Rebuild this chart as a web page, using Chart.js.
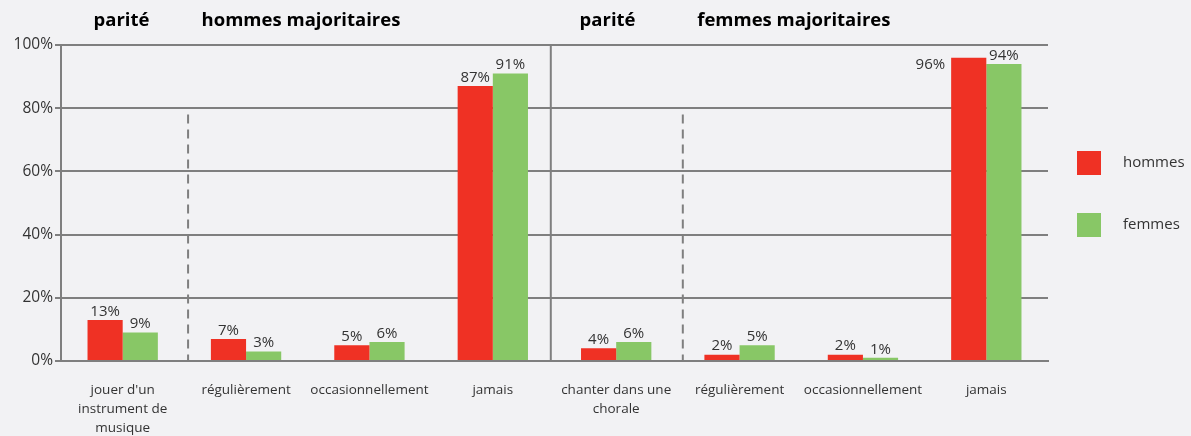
<!DOCTYPE html>
<html><head><meta charset="utf-8">
<script src="https://cdn.jsdelivr.net/npm/chart.js@4"></script>
<style>html,body{margin:0;padding:0;background:#f2f2f4;}#wrap{width:1191px;height:436px;position:relative;}</style>
</head><body><div id="wrap"><canvas id="c"></canvas></div>
<script>
const categories = [["jouer d'un","instrument de","musique"],"régulièrement","occasionnellement","jamais",["chanter dans une","chorale"],"régulièrement","occasionnellement","jamais"];
const seriesNames = ["hommes","femmes"];
const hommes = [13,7,5,87,4,2,2,96];
const femmes = [9,3,6,91,6,5,1,94];
const yTicks = [0,20,40,60,80,100];
const headers = ["parité","hommes majoritaires","parité","femmes majoritaires"];

const RED = '#ef3124', GREEN = '#88c766', GRID = '#7f7f7f', TXT = '#333333';
const FONT = "'Open Sans', 'Noto Sans', sans-serif";

const overlay = {
  id: 'overlay',
  beforeDatasetsDraw(chart) {
    const ctx = chart.ctx, x = chart.scales.x, y = chart.scales.y;
    ctx.save();
    ctx.strokeStyle = GRID; ctx.lineWidth = 2;
    const xs = x.getPixelForValue(3.47);
    ctx.beginPath(); ctx.moveTo(xs, y.getPixelForValue(100)); ctx.lineTo(xs, y.getPixelForValue(0)); ctx.stroke();
    ctx.setLineDash([9,6]);
    [0.53, 4.54].forEach(v => {
      const xp = x.getPixelForValue(v);
      ctx.beginPath(); ctx.moveTo(xp, y.getPixelForValue(78)); ctx.lineTo(xp, y.getPixelForValue(0)); ctx.stroke();
    });
    ctx.restore();
  },
  afterDatasetsDraw(chart) {
    const ctx = chart.ctx, x = chart.scales.x, y = chart.scales.y;
    ctx.save();
    ctx.font = "15px " + FONT; ctx.fillStyle = TXT; ctx.textBaseline = 'bottom';
    chart.data.datasets.forEach((ds, di) => {
      const meta = chart.getDatasetMeta(di);
      meta.data.forEach((bar, i) => {
        const v = ds.data[i];
        const txt = v + '%';
        if (v > 95) {
          ctx.textAlign = 'right';
          ctx.fillText(txt, bar.x - bar.width/2 - 6, bar.y + 15);
        } else {
          ctx.textAlign = 'center';
          ctx.fillText(txt, bar.x, bar.y - 1);
        }
      });
    });
    ctx.font = "bold 18.5px " + FONT; ctx.fillStyle = '#000'; ctx.textAlign = 'center'; ctx.textBaseline = 'middle';
    const hx = [-0.01, 1.445, 3.93, 5.44];
    headers.forEach((h, i) => ctx.fillText(h, x.getPixelForValue(hx[i]), 21));
    const lx = chart.chartArea.right + 29;
    const ly = [163, 225];
    ctx.font = "15px " + FONT; ctx.textAlign = 'left'; ctx.textBaseline = 'middle';
    chart.data.datasets.forEach((ds, di) => {
      ctx.fillStyle = ds.backgroundColor;
      ctx.fillRect(lx, ly[di] - 12, 24, 24);
      ctx.fillStyle = TXT;
      ctx.fillText(ds.label, lx + 46, ly[di]);
    });
    ctx.restore();
  }
};

new Chart(document.getElementById('c'), {
  type: 'bar',
  data: {
    labels: categories,
    datasets: [
      {label: seriesNames[0], data: hommes, backgroundColor: RED, categoryPercentage: 0.57, barPercentage: 1.0},
      {label: seriesNames[1], data: femmes, backgroundColor: GREEN, categoryPercentage: 0.57, barPercentage: 1.0}
    ]
  },
  options: {
    responsive: true, maintainAspectRatio: false, animation: false,
    layout: {padding: {top: 45, right: 143, left: 4, bottom: 0}},
    plugins: {legend: {display: false}, tooltip: {enabled: false}},
    scales: {
      x: {
        grid: {display: false, drawOnChartArea: false},
        border: {display: true, color: GRID, width: 2},
        afterFit(s) { s.height = 75; },
        ticks: {color: TXT, font: {family: FONT, size: 13.5, lineHeight: 1.4}, padding: 12, maxRotation: 0, autoSkip: false}
      },
      y: {
        min: 0, max: 100,
        afterFit(s) { s.width = 57; },
        afterBuildTicks(s) { s.ticks = yTicks.map(v => ({value: v})); },
        grid: {color: GRID, lineWidth: 2, tickLength: 6},
        border: {display: true, color: GRID, width: 2},
        ticks: {color: TXT, font: {family: FONT, size: 15.5}, padding: 2, callback: v => v + '%'}
      }
    }
  },
  plugins: [overlay]
});
</script></body></html>
